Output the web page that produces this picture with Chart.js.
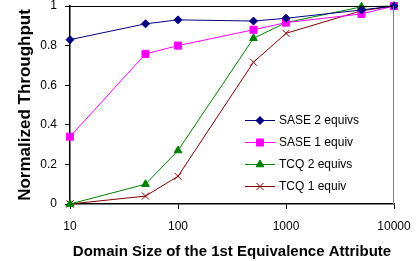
<!DOCTYPE html>
<html>
<head>
<meta charset="utf-8">
<style>
  html, body { margin: 0; padding: 0; background: #fff; }
  #wrap { width: 418px; height: 261px; position: relative; }
</style>
</head>
<body>
<div id="wrap"><canvas id="tputChart"></canvas></div>

<script src="https://cdn.jsdelivr.net/npm/chart.js"></script>
<script>
    // domain sizes (x) and normalized throughput for each run
    const domainSizes = [10, 50, 100, 500, 1000, 5000, 10000];
    const sase2 = [0.83, 0.91, 0.93, 0.924, 0.938, 0.98, 1.0];
    const sase1 = [0.34, 0.758, 0.80, 0.88, 0.916, 0.96, 1.0];
    const tcq2 = [0.0, 0.10, 0.27, 0.837, 0.916, 0.996, 1.0];
    const tcq1 = [0.0, 0.04, 0.14, 0.716, 0.862, 0.976, 1.0];

    const xTicks = [10, 100, 1000, 10000];
    const yTicks = [0, 0.2, 0.4, 0.6, 0.8, 1];

    const fontFamily = 'Arial, "Liberation Sans", sans-serif';

    function toPoints(vals) {
        return domainSizes.map((x, i) => ({ x: x, y: vals[i] }));
    }

    function series(label, vals, color, style, radius) {
        return {
            label: label,
            data: toPoints(vals),
            borderColor: color,
            backgroundColor: color,
            borderWidth: 1,
            pointStyle: style,
            pointRadius: radius,
            pointBorderWidth: 1,
            pointBackgroundColor: color,
            pointBorderColor: color,
            tension: 0,
            clip: false
        };
    }

    // border on top/right of plot area
    const frame = {
        id: 'frame',
        afterDraw(chart) {
            const { ctx, chartArea: a } = chart;
            ctx.save();
            ctx.lineWidth = 1;
            ctx.strokeStyle = '#000';
            ctx.beginPath();
            ctx.moveTo(a.left, a.top + 0.5);
            ctx.lineTo(a.right, a.top + 0.5);
            ctx.stroke();
            ctx.strokeStyle = '#808080';
            ctx.beginPath();
            ctx.moveTo(a.right - 0.5, a.top);
            ctx.lineTo(a.right - 0.5, a.bottom);
            ctx.stroke();
            ctx.restore();
        }
    };

    // legend drawn inside the plot, lower right, with line + marker samples
    const insideLegend = {
        id: 'insideLegend',
        afterDraw(chart) {
            const { ctx, chartArea: a } = chart;
            const x0 = a.left + 175;
            let y = a.top + 114;
            ctx.save();
            ctx.font = '12px ' + fontFamily;
            ctx.textBaseline = 'middle';
            ctx.fillStyle = '#000';
            chart.data.datasets.forEach(ds => {
                ctx.strokeStyle = ds.borderColor;
                ctx.lineWidth = 1;
                ctx.beginPath();
                ctx.moveTo(x0, y + 0.5);
                ctx.lineTo(x0 + 30, y + 0.5);
                ctx.stroke();
                ctx.fillStyle = ds.pointBackgroundColor;
                Chart.helpers.drawPoint(ctx, {
                    pointStyle: ds.pointStyle,
                    radius: ds.pointRadius,
                    borderWidth: 1,
                    rotation: 0
                }, x0 + 15, y + 0.5);
                ctx.fillStyle = '#000';
                ctx.fillText(ds.label, x0 + 34, y + 1);
                y += 22;
            });
            ctx.restore();
        }
    };

    const config = {
        type: 'line',
        data: {
            datasets: [
                series('SASE 2 equivs', sase2, '#000080', 'rectRot', 4),
                series('SASE 1 equiv', sase1, '#FF00FF', 'rect', 5),
                series('TCQ 2 equivs', tcq2, '#008000', 'triangle', 4.5),
                series('TCQ 1 equiv', tcq1, '#800000', 'crossRot', 5)
            ]
        },
        options: {
            responsive: true,
            maintainAspectRatio: false,
            animation: false,
            layout: { padding: { left: 0, top: 6, right: 24, bottom: 0 } },
            plugins: {
                legend: { display: false },
                tooltip: { enabled: false }
            },
            scales: {
                x: {
                    type: 'logarithmic',
                    min: 10,
                    max: 10000,
                    afterBuildTicks: scale => {
                        scale.ticks = xTicks.map(v => ({ value: v }));
                    },
                    afterFit: scale => {
                        scale.height = 57;
                        scale.paddingLeft = 0;
                        scale.paddingRight = 0;
                    },
                    ticks: {
                        autoSkip: false,
                        maxRotation: 0,
                        color: '#000',
                        padding: 10,
                        font: { family: fontFamily, size: 12 },
                        callback: v => String(v)
                    },
                    grid: {
                        drawOnChartArea: false,
                        tickLength: 5,
                        color: '#000'
                    },
                    border: { color: '#000', width: 1.5 },
                    title: {
                        display: true,
                        text: 'Domain Size of the 1st Equivalence Attribute',
                        color: '#000',
                        font: { family: fontFamily, size: 15, weight: 'bold' },
                        padding: { top: 0, bottom: 0 }
                    }
                },
                y: {
                    min: 0,
                    max: 1,
                    afterBuildTicks: scale => {
                        scale.ticks = yTicks.map(v => ({ value: v }));
                    },
                    afterFit: scale => {
                        scale.width = 70;
                        scale.paddingTop = 0;
                        scale.paddingBottom = 0;
                    },
                    ticks: {
                        color: '#000',
                        padding: 8,
                        font: { family: fontFamily, size: 12 },
                        callback: v => String(v)
                    },
                    grid: {
                        drawOnChartArea: false,
                        tickLength: 5,
                        color: '#000'
                    },
                    border: { color: '#000', width: 1.5 },
                    title: {
                        display: true,
                        text: 'Normalized Throughput',
                        color: '#000',
                        font: { family: fontFamily, size: 17, weight: 'bold' },
                        padding: { top: 15, bottom: 0 }
                    }
                }
            }
        },
        plugins: [frame, insideLegend]
    };

    const ctx = document.getElementById('tputChart').getContext('2d');
    const tputChart = new Chart(ctx, config);
</script>
</body>
</html>
